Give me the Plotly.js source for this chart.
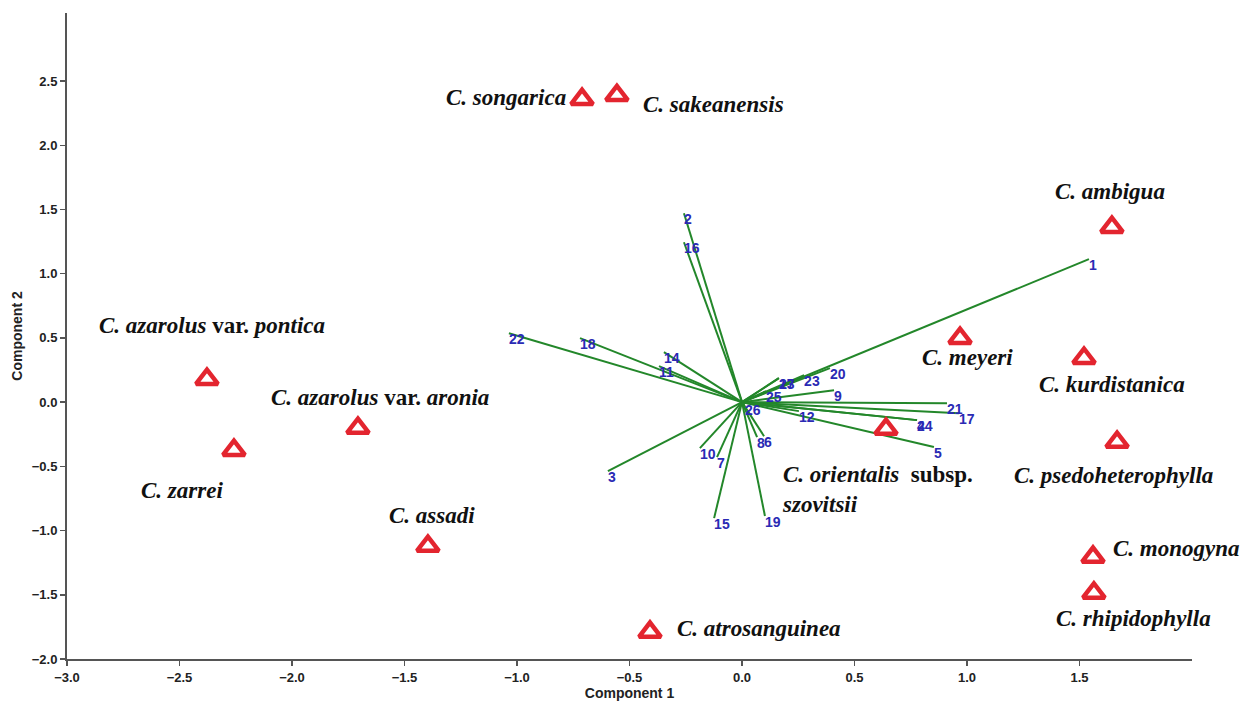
<!DOCTYPE html>
<html>
<head>
<meta charset="utf-8">
<script src="https://cdn.plot.ly/plotly-3.0.1.min.js"></script>
<style>html,body{margin:0;padding:0;background:#fff;}#chart{width:1250px;height:705px;}</style>
</head>
<body>
<div id="chart"></div>
<script>
// ---- Species scores (Component 1, Component 2) ----
const speciesNames = [
  "C. songarica","C. sakeanensis","C. ambigua","C. meyeri","C. kurdistanica",
  "C. orientalis subsp. szovitsii","C. psedoheterophylla","C. monogyna","C. rhipidophylla",
  "C. atrosanguinea","C. assadi","C. azarolus var. aronia","C. azarolus var. pontica","C. zarrei"
];
const speciesLabels = [
  "<b><i>C. songarica</i></b>",
  "<b><i>C. sakeanensis</i></b>",
  "<b><i>C. ambigua</i></b>",
  "<b><i>C. meyeri</i></b>",
  "<b><i>C. kurdistanica</i></b>",
  "<b><i>C. orientalis</i>  subsp.<br><i>szovitsii</i></b>",
  "<b><i>C. psedoheterophylla</i></b>",
  "<b><i>C. monogyna</i></b>",
  "<b><i>C. rhipidophylla</i></b>",
  "<b><i>C. atrosanguinea</i></b>",
  "<b><i>C. assadi</i></b>",
  "<b><i>C. azarolus</i> var. <i>aronia</i></b>",
  "<b><i>C. azarolus</i> var. <i>pontica</i></b>",
  "<b><i>C. zarrei</i></b>"
];
const speciesX = [-0.711,-0.556,1.644,0.969,1.520,0.640,1.667,1.560,1.564,-0.409,-1.396,-1.707,-2.378,-2.258];
const speciesY = [2.358,2.389,1.362,0.498,0.342,-0.210,-0.311,-1.206,-1.486,-1.790,-1.121,-0.202,0.179,-0.374];

// ---- Variable loadings (biplot vectors) ----
const varLabels = ["1","2","3","4","5","6","7","8","9","10","11","12","13","14","15","16","17","18","19","20","21","22","23","24","25","26","27"];
const varX = [1.542,-0.258,-0.596,0.778,0.853,0.098,-0.111,0.067,0.409,-0.187,-0.369,0.253,0.164,-0.347,-0.124,-0.258,0.964,-0.720,0.102,0.391,0.911,-1.036,0.276,0.778,0.107,0.013,0.164];
const varY = [1.113,1.471,-0.537,-0.140,-0.350,-0.265,-0.428,-0.272,0.093,-0.358,0.280,-0.070,0.187,0.389,-0.903,1.245,-0.086,0.498,-0.887,0.265,-0.008,0.537,0.210,-0.140,0.086,-0.016,0.187];

// ---- Axis ticks ----
const xTicks = [-3.0,-2.5,-2.0,-1.5,-1.0,-0.5,0.0,0.5,1.0,1.5];
const yTicks = [-2.0,-1.5,-1.0,-0.5,0.0,0.5,1.0,1.5,2.0,2.5];

// ---- Label placement (layout only, pixels relative to each triangle) ----
const labelPlacement = [
  {xanchor:"right", xs:-14, ys:2},
  {xanchor:"left",  xs:24,  ys:-9},
  {xanchor:"center",xs:-2,  ys:36},
  {xanchor:"left",  xs:-40, ys:-19},
  {xanchor:"left",  xs:-47, ys:-26},
  {xanchor:"left",  xs:-106,ys:-60},
  {xanchor:"left",  xs:-105,ys:-33},
  {xanchor:"left",  xs:18,  ys:9},
  {xanchor:"left",  xs:-40, ys:-26},
  {xanchor:"left",  xs:25,  ys:4},
  {xanchor:"left",  xs:-41, ys:31},
  {xanchor:"left",  xs:-89, ys:31},
  {xanchor:"left",  xs:-110,ys:54},
  {xanchor:"left",  xs:-95, ys:-40}
];

// Build vector line segments from origin
const lx = [], ly = [];
for (let i = 0; i < varX.length; i++) { lx.push(0, varX[i], null); ly.push(0, varY[i], null); }

const traces = [
  {
    type: "scatter", mode: "lines", x: lx, y: ly,
    line: {color: "#23872a", width: 2}, hoverinfo: "skip", showlegend: false
  },
  {
    type: "scatter", mode: "text", x: varX, y: varY, text: varLabels,
    textposition: "bottom right",
    textfont: {family: "Arial, Liberation Sans, sans-serif", size: 14, color: "#2a2ab4", weight: "bold"},
    showlegend: false
  },
  {
    type: "scatter", mode: "markers", x: speciesX, y: speciesY, text: speciesNames,
    marker: {symbol: "triangle-up-open", size: 19, color: "#e3252f", line: {width: 4.5, color: "#e3252f"}},
    showlegend: false
  }
];

const annotations = speciesLabels.map((t, i) => ({
  x: speciesX[i], y: speciesY[i], xref: "x", yref: "y",
  text: t, showarrow: false, align: "left",
  xanchor: labelPlacement[i].xanchor, yanchor: "middle",
  xshift: labelPlacement[i].xs, yshift: labelPlacement[i].ys,
  font: {family: "Times New Roman, Liberation Serif, serif", size: 23, color: "#111"}
}));

const axisFont = {family: "Arial, Liberation Sans, sans-serif", size: 13, color: "#222", weight: "bold"};

const layout = {
  width: 1250, height: 705,
  margin: {l: 67, r: 58, t: 13, b: 46},
  paper_bgcolor: "#fff", plot_bgcolor: "#fff",
  showlegend: false,
  font: {family: "Arial, Liberation Sans, sans-serif"},
  xaxis: {
    range: [-3.0, 2.0], tickvals: xTicks, tickformat: ".1f",
    showgrid: false, zeroline: false, showline: true, linecolor: "#555", linewidth: 2,
    ticks: "outside", ticklen: 5, tickcolor: "#555", tickwidth: 1.5,
    tickfont: axisFont,
    title: {text: "Component 1", font: {family: "Arial, Liberation Sans, sans-serif", size: 14, color: "#222", weight: "bold"}, standoff: 4}
  },
  yaxis: {
    range: [-2.0, 3.03], tickvals: yTicks, tickformat: ".1f",
    showgrid: false, zeroline: false, showline: true, linecolor: "#555", linewidth: 2,
    ticks: "outside", ticklen: 5, tickcolor: "#555", tickwidth: 1.5,
    tickfont: axisFont,
    title: {text: "Component 2", font: {family: "Arial, Liberation Sans, sans-serif", size: 14, color: "#222", weight: "bold"}, standoff: 6}
  },
  annotations: annotations
};

Plotly.newPlot("chart", traces, layout, {displayModeBar: false, staticPlot: true});
</script>
</body>
</html>
